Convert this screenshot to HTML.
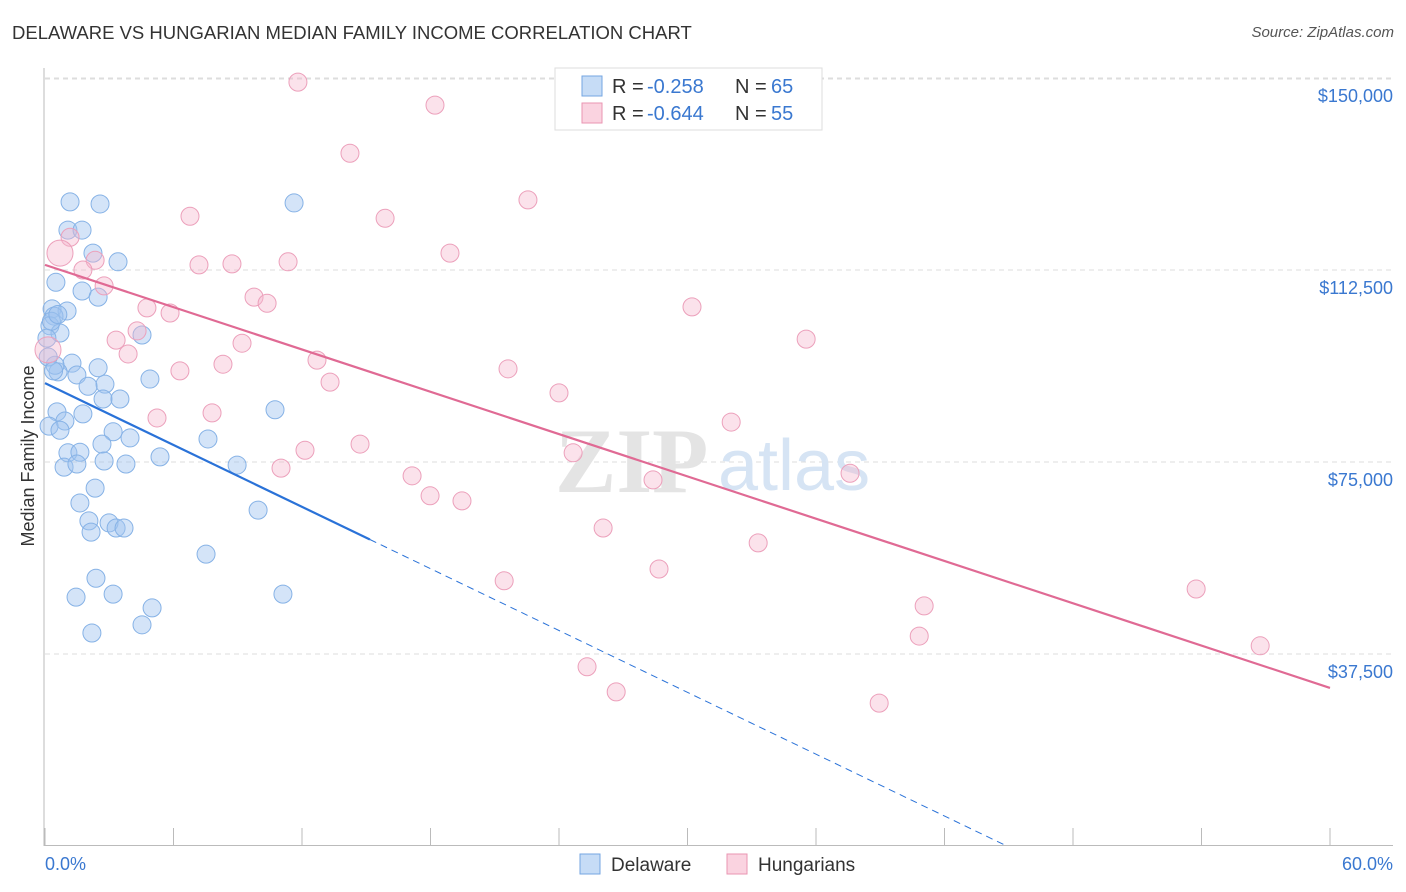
<!DOCTYPE html>
<html><head><meta charset="utf-8"><style>
body{margin:0;background:#fff;font-family:"Liberation Sans",sans-serif;}
#wrap{position:relative;width:1406px;height:892px;overflow:hidden;}
.t{position:absolute;white-space:nowrap;}
</style></head><body>
<div id="wrap">
<div class="t" style="left:12px;top:22px;font-size:18.5px;color:#333;">DELAWARE VS HUNGARIAN MEDIAN FAMILY INCOME CORRELATION CHART</div>
<div class="t" style="right:12px;top:24px;font-size:15px;color:#555;font-style:italic;">Source: ZipAtlas.com</div>
<svg id="svg" width="1406" height="892" style="position:absolute;left:0;top:0"></svg>
</div>
<script>
const yTicks=[37500,75000,112500,150000];
const yTickLabels=["$37,500","$75,000","$112,500","$150,000"];
const xTickLabels=["0.0%","60.0%"];
const blueX=[1.17,2.57,11.63,1.07,1.73,2.24,3.41,0.51,1.73,2.48,0.33,1.03,0.42,0.23,0.70,0.09,4.53,2.48,1.26,0.61,1.49,2.80,2.01,4.90,2.71,3.50,0.56,1.77,10.74,0.93,0.19,0.70,3.18,3.97,2.66,7.61,5.37,1.07,1.63,2.76,3.78,0.89,1.49,8.97,2.34,1.63,9.95,2.05,2.15,2.99,3.32,3.69,7.52,2.38,1.45,3.18,11.11,5.00,2.19,4.53,0.47,0.30,0.15,0.60,0.40];
const blueY=[125.8,125.4,125.6,120.3,120.3,115.8,114.1,110.1,108.4,107.2,104.9,104.5,103.5,101.6,100.2,99.2,99.8,93.4,94.3,92.6,92.0,90.2,89.8,91.2,87.3,87.3,84.8,84.4,85.2,83.0,82.0,81.2,80.9,79.7,78.5,79.5,76.0,76.8,76.9,75.2,74.6,74.0,74.6,74.4,69.9,67.0,65.6,63.5,61.3,63.1,62.1,62.1,57.0,52.3,48.6,49.2,49.2,46.5,41.6,43.2,93.9,102.5,95.5,103.8,92.8];
const pinkX=[11.81,18.21,14.24,22.55,6.77,15.88,1.17,18.91,0.70,11.35,7.19,8.73,2.34,1.77,2.76,9.76,10.37,4.76,5.84,30.21,4.30,3.32,9.20,35.54,0.14,3.88,12.70,8.31,6.30,21.62,13.31,24.00,5.23,7.80,32.04,14.71,12.14,24.66,11.02,17.14,37.59,17.98,28.39,19.47,26.06,33.30,28.67,21.44,41.05,53.75,40.82,56.74,25.31,26.67,38.95];
const pinkY=[149.2,144.7,135.3,126.2,123.0,122.6,118.9,115.8,115.8,114.1,113.5,113.7,114.4,112.5,109.4,107.2,106.0,105.1,104.1,105.3,100.6,98.8,98.2,99.0,96.9,96.1,94.9,94.1,92.8,93.2,90.6,88.5,83.6,84.6,82.8,78.5,77.3,76.8,73.8,72.3,72.8,68.4,71.5,67.4,62.1,59.2,54.1,51.8,46.9,50.2,41.0,39.1,35.0,30.1,27.9];
const pinkBig=[8,24];
const blueLine=[90.4,-2.013];
const pinkLine=[113.5,-1.377];
const X0=45,X1=1330,YB=846,PXPER=192/37500;
const sx=v=>X0+(v/60)*(X1-X0);
const sy=v=>YB-v*PXPER;
const svg=document.getElementById('svg');
const NS='http://www.w3.org/2000/svg';
function mk(tag,attrs,parent){const e=document.createElementNS(NS,tag);for(const k in attrs)e.setAttribute(k,attrs[k]);(parent||svg).appendChild(e);return e;}
yTicks.forEach((v,i)=>{
 const g=mk('line',{x1:45,x2:1393,y1:sy(v),y2:sy(v),stroke:'#ddd','stroke-dasharray':'5,4'});
 
 
 const t=mk('text',{x:1393,y:sy(v)+24,'text-anchor':'end','font-size':18,fill:'#3a78d0','font-family':'Liberation Sans'});
 t.textContent=yTickLabels[i];
 
 
});
mk('line',{x1:45,x2:1393,y1:79,y2:79,stroke:'#ddd','stroke-dasharray':'5,4'});
mk('line',{x1:44,x2:44,y1:68,y2:846,stroke:'#bbb'});
mk('line',{x1:44,x2:1393,y1:845.5,y2:845.5,stroke:'#bbb'});
for(let i=0;i<=10;i++){const x=45+i*128.5;mk('line',{x1:x,x2:x,y1:828,y2:846,stroke:'#bbb'});}
const wm=mk('text',{x:555,y:492,'font-size':92,fill:'#e4e4e4','font-family':'Liberation Serif','font-weight':'bold'});wm.textContent='ZIP';


const wm2=mk('text',{x:718,y:490,'font-size':72,fill:'#d6e4f4','font-family':'Liberation Sans'});wm2.textContent='atlas';
function dots(xs,ys,fill,stroke,name,big){
 xs.forEach((x,i)=>{const c=mk('circle',{cx:sx(x),cy:sy(ys[i]*1000),r:(big&&big.includes(i))?13:9,fill:fill,stroke:stroke,'stroke-width':1});
 
 });
}
dots(blueX,blueY,'rgba(160,196,240,0.45)','#86b2e6','delaware-point');
dots(pinkX,pinkY,'rgba(246,182,204,0.4)','#eca0bb','hungarian-point',pinkBig);
const bx1=15.17,bx2=-blueLine[0]/blueLine[1];
const bl=mk('line',{x1:sx(0),y1:sy(blueLine[0]*1000),x2:sx(bx1),y2:sy((blueLine[0]+blueLine[1]*bx1)*1000),stroke:'#2a72d8','stroke-width':2.2});


mk('line',{x1:sx(bx1),y1:sy((blueLine[0]+blueLine[1]*bx1)*1000),x2:sx(bx2),y2:sy(0),stroke:'#2a72d8','stroke-width':1,'stroke-dasharray':'7,5'});
const pl=mk('line',{x1:sx(0),y1:sy(pinkLine[0]*1000),x2:sx(60),y2:sy((pinkLine[0]+pinkLine[1]*60)*1000),stroke:'#e06a94','stroke-width':2.2});


[[45,'start'],[1393,'end']].forEach((p,i)=>{const t=mk('text',{x:p[0],y:870,'text-anchor':p[1],'font-size':18,fill:'#3a78d0','font-family':'Liberation Sans'});t.textContent=xTickLabels[i];

});
const yt=mk('text',{x:34,y:456,'text-anchor':'middle','font-size':18,fill:'#333','font-family':'Liberation Sans',transform:'rotate(-90 34 456)'});yt.textContent='Median Family Income';


const lg=mk('rect',{x:555,y:68,width:267,height:62,fill:'#fff',stroke:'#ddd'});


[[86,'rgba(160,196,240,0.6)','#74a6e2','-0.258','65'],[113,'rgba(246,182,204,0.6)','#ea94b2','-0.644','55']].forEach(r=>{
 mk('rect',{x:582,y:r[0]-10,width:20,height:20,fill:r[1],stroke:r[2]});
 const parts=[[612,'R =','#333'],[647,r[3],'#3a78d0'],[735,'N =','#333'],[771,r[4],'#3a78d0']];
 parts.forEach(p=>{
  const t=mk('text',{x:p[0],y:r[0]+7,'font-size':20,fill:p[2],'font-family':'Liberation Sans'});
  t.textContent=p[1];
  
  
 });
});
[[580,'rgba(160,196,240,0.6)','#74a6e2','Delaware'],[727,'rgba(246,182,204,0.6)','#ea94b2','Hungarians']].forEach(r=>{
 mk('rect',{x:r[0],y:854,width:20,height:20,fill:r[1],stroke:r[2]});
 const t=mk('text',{x:r[0]+31,y:871,'font-size':19,fill:'#333','font-family':'Liberation Sans'});t.textContent=r[3];
 
 
});
</script>
</body></html>
